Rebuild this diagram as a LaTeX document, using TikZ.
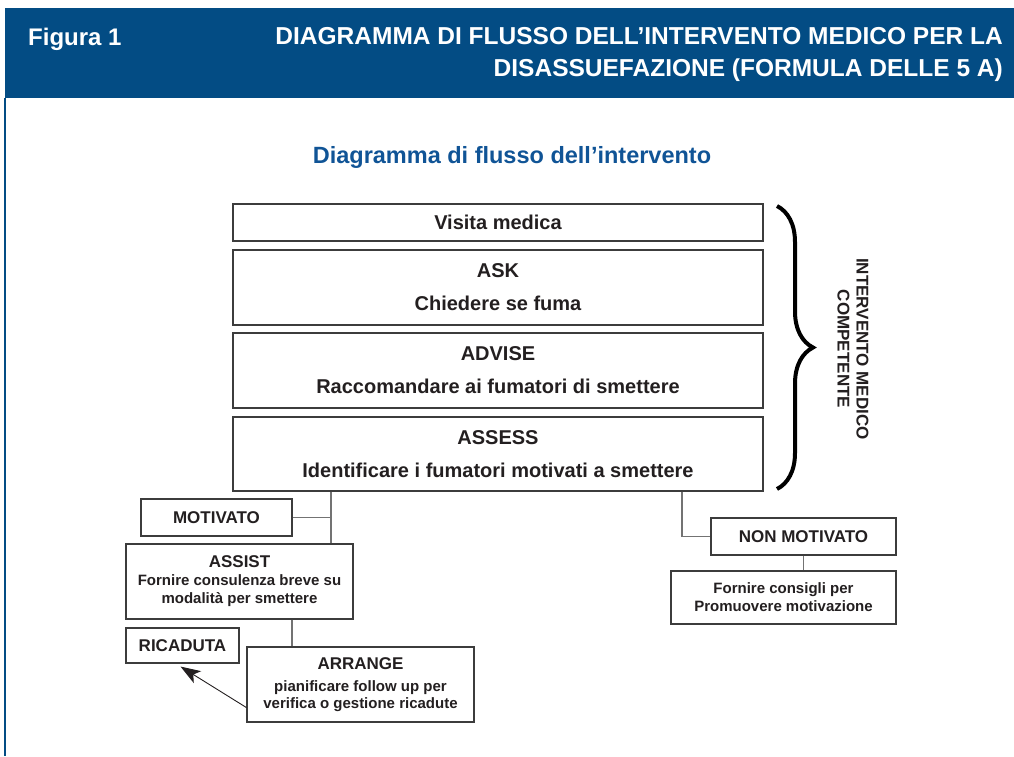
\documentclass[tikz,border=0pt]{standalone}
\usepackage{fontspec}
\setmainfont{Liberation Sans}
\usetikzlibrary{calc,arrows.meta,decorations.pathreplacing}
\definecolor{hdrblue}{RGB}{3,76,132}
\definecolor{subblue}{RGB}{16,84,150}
\definecolor{boxgray}{RGB}{60,60,60}
\definecolor{linegray}{RGB}{115,115,115}
\definecolor{textdark}{RGB}{35,31,32}
\tikzset{
  box/.style={draw=boxgray, line width=1.1pt, fill=white, inner sep=0pt, align=center, text=textdark, font=\bfseries},
  bigbox/.style={box, minimum width=530pt, font=\fontsize{20}{33}\selectfont\bfseries},
  conn/.style={draw=linegray, line width=1.8pt},
  arrowline/.style={draw=textdark, line width=0.9pt, -{Stealth[length=20pt,width=14pt,inset=5pt]}},
}
\begin{document}
\begin{tikzpicture}[x=1pt,y=1pt]
\useasboundingbox (0,0) rectangle (1014,-756);
% header
\fill[hdrblue] (5,-8) rectangle (1014,-98);
\draw[hdrblue, line width=2pt] (5,-98) -- (5,-756);
\node (fig) [anchor=base west, text=white, inner sep=0pt, font=\fontsize{24}{30}\selectfont\bfseries] at (28,-45) {Figura 1};
\node (title) [anchor=north east, text=white, inner sep=0pt, align=right, font=\fontsize{24.5}{32}\selectfont\bfseries] at (1003,-27) {DIAGRAMMA DI FLUSSO DELL’INTERVENTO MEDICO PER LA\\DISASSUEFAZIONE (FORMULA DELLE 5 A)};
\node (sub) [text=subblue, inner sep=0pt, font=\fontsize{23.5}{28}\selectfont\bfseries] at (512,-157) {Diagramma di flusso dell’intervento};
% main boxes
\node (visita) [bigbox, minimum height=37pt] at (498,-222.5) {Visita medica};
\node (ask) [bigbox, minimum height=75pt] at (498,-287.5) {ASK\\Chiedere se fuma};
\node (advise) [bigbox, minimum height=75pt] at (498,-370.5) {ADVISE\\Raccomandare ai fumatori di smettere};
\node (assess) [bigbox, minimum height=74pt] at (498,-454) {ASSESS\\Identificare i fumatori motivati a smettere};
% brace and label
\coordinate (bt) at (777,-206);
\coordinate (bb) at (777,-489);
\draw[decorate, decoration={brace, amplitude=36pt}, line width=4pt, black] (bt) -- (bb);
\node (compet) [rotate=-90, align=center, text=textdark, inner sep=0pt, font=\fontsize{17}{19}\selectfont\bfseries] at (853,-349) {INTERVENTO MEDICO\\COMPETENTE};
% left branch
\node (motivato) [box, minimum width=151pt, minimum height=37pt, font=\fontsize{17}{20}\selectfont\bfseries] at (216.5,-517.5) {MOTIVATO};
\node (assist) [box, minimum width=227pt, minimum height=75pt, font=\fontsize{15}{18}\selectfont\bfseries] at (239.5,-581.5) {{\fontsize{17}{18}\selectfont ASSIST}\\Fornire consulenza breve su\\modalità per smettere};
\node (ricaduta) [box, minimum width=113pt, minimum height=35pt, font=\fontsize{17}{20}\selectfont\bfseries] at (182.5,-645.5) {RICADUTA};
\node (arrange) [box, minimum width=227pt, minimum height=75pt, font=\fontsize{15}{16.5}\selectfont\bfseries] at (360.5,-684.5) {{\fontsize{17}{18}\selectfont ARRANGE}\\[6pt]pianificare follow up per\\verifica o gestione ricadute};
\coordinate (j1) at (331,-517.5);
\coordinate (j2) at (292,-630);
\draw[conn] (assess.south -| j1) -- (assist.north -| j1);
\draw[conn] (motivato.east) -- (j1);
\draw[conn] (assist.south -| j2) -- (arrange.north -| j2);
\draw[arrowline] ($(arrange.south west)+(0,15)$) -- ($(ricaduta.south)+(-2,-3)$);
% right branch
\node (nonmot) [box, minimum width=185pt, minimum height=37pt, font=\fontsize{17}{20}\selectfont\bfseries] at (803.5,-536.5) {NON MOTIVATO};
\node (fornire) [box, minimum width=225pt, minimum height=53pt, font=\fontsize{15}{18}\selectfont\bfseries] at (783.5,-597.5) {Fornire consigli per\\Promuovere motivazione};
\coordinate (j3) at (682,-536.5);
\draw[conn] (assess.south -| j3) |- (nonmot.west);
\draw[conn] (nonmot.south) -- (nonmot.south |- fornire.north);
\end{tikzpicture}
\end{document}
